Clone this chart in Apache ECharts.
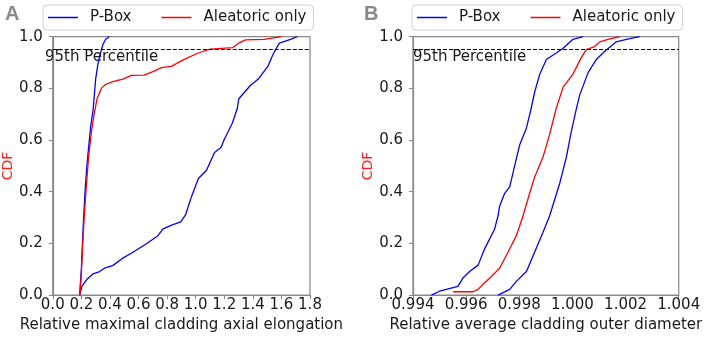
<!DOCTYPE html>
<html>
<head>
<meta charset="utf-8">
<script src="https://cdn.jsdelivr.net/npm/echarts@6/dist/echarts.min.js"></script>
<style>
    html, body {margin: 0; padding: 0; background: #fff;}
    #chartWrap {width: 706px; height: 338px;}
</style>
</head>
<body>
<div id="chartWrap"></div>
<script>
// panel A: relative maximal cladding axial elongation
const pboxLowA = [[0.188, 0], [0.20, 0.10], [0.215, 0.29], [0.228, 0.42], [0.238, 0.495], [0.249, 0.56],
    [0.265, 0.65], [0.283, 0.72], [0.30, 0.836], [0.315, 0.89], [0.328, 0.924], [0.351, 0.97], [0.37, 0.99], [0.396, 1.0]];
const pboxHighA = [[0.188, 0], [0.204, 0.034], [0.238, 0.06], [0.278, 0.081], [0.328, 0.091], [0.362, 0.104],
    [0.419, 0.114], [0.487, 0.142], [0.555, 0.164], [0.645, 0.195], [0.736, 0.23], [0.77, 0.255], [0.827, 0.27],
    [0.895, 0.283], [0.929, 0.31], [0.97, 0.38], [1.019, 0.451], [1.075, 0.482], [1.132, 0.552], [1.177, 0.571],
    [1.2, 0.602], [1.257, 0.666], [1.291, 0.722], [1.302, 0.76], [1.381, 0.81], [1.438, 0.836], [1.506, 0.886],
    [1.54, 0.93], [1.585, 0.975], [1.664, 0.99], [1.71, 1.0]];
const aleatoricA = [[0.19, 0], [0.20, 0.08], [0.21, 0.2], [0.22, 0.3], [0.235, 0.42], [0.25, 0.53], [0.27, 0.63],
    [0.29, 0.7], [0.31, 0.76], [0.34, 0.80], [0.37, 0.815], [0.42, 0.826], [0.49, 0.836], [0.55, 0.85], [0.64, 0.851],
    [0.71, 0.867], [0.76, 0.88], [0.83, 0.885], [0.92, 0.912], [1.01, 0.935], [1.10, 0.952], [1.26, 0.958],
    [1.30, 0.975], [1.35, 0.988], [1.48, 0.99], [1.60, 1.0]];

// panel B: relative average cladding outer diameter
const pboxLowB = [[0.99469, 0], [0.995, 0.015], [0.99569, 0.034], [0.99588, 0.066], [0.99613, 0.091], [0.99645, 0.116],
    [0.9967, 0.18], [0.99707, 0.255], [0.9972, 0.306], [0.99726, 0.344], [0.99745, 0.394], [0.99764, 0.419],
    [0.99783, 0.502], [0.99802, 0.583], [0.99827, 0.647], [0.99842, 0.71], [0.99858, 0.786], [0.99877, 0.855],
    [0.99902, 0.912], [0.99939, 0.937], [0.99965, 0.955], [1.00002, 0.99], [1.0004, 1.0]];
const pboxHighB = [[0.9972, 0], [0.99764, 0.022], [0.99789, 0.053], [0.99827, 0.091], [0.99858, 0.167], [0.99889, 0.242],
    [0.99914, 0.306], [0.99933, 0.369], [0.99952, 0.432], [0.99977, 0.533], [0.99996, 0.634], [1.00015, 0.722],
    [1.00027, 0.773], [1.00059, 0.861], [1.0009, 0.912], [1.00121, 0.943], [1.00165, 0.98], [1.00203, 0.99], [1.00253, 1.0]];
const aleatoricB = [[0.99551, 0.013], [0.99626, 0.013], [0.99645, 0.022], [0.99663, 0.041], [0.99695, 0.072],
    [0.99726, 0.104], [0.99758, 0.167], [0.99789, 0.23], [0.99814, 0.306], [0.99839, 0.394], [0.99858, 0.457],
    [0.99889, 0.533], [0.99914, 0.621], [0.99939, 0.722], [0.99965, 0.805], [1.00002, 0.855], [1.00033, 0.918],
    [1.00052, 0.95], [1.00084, 0.962], [1.00103, 0.98], [1.00134, 0.99], [1.00178, 1.0]];

const percentile = 0.95;
const xTitles = ['Relative maximal cladding axial elongation', 'Relative average cladding outer diameter'];
const panelLabels = ['A', 'B'];

const font = 'DejaVu Sans';
const frameColor = '#888';
const textColor = '#1a1a1a';

let myChart = echarts.init(document.getElementById('chartWrap'), null, {renderer: 'canvas'});

function xAxisOf(idx, min, max, step, digits) {
    return {
        type: 'value',
        gridIndex: idx,
        min: min,
        max: max,
        interval: step,
        name: xTitles[idx],
        nameLocation: 'middle',
        nameGap: 18,
        nameTextStyle: {fontFamily: font, fontSize: 15, color: textColor},
        axisLine: {show: true, lineStyle: {color: frameColor, width: 1.2}},
        axisTick: {show: true, length: 4, lineStyle: {color: frameColor}},
        axisLabel: {
            fontFamily: font, fontSize: 15, color: textColor, margin: 3,
            showMinLabel: true, showMaxLabel: true,
            formatter: function (v) {
                return v.toFixed(digits);
            }
        },
        splitLine: {show: false}
    };
}

function yAxisOf(idx, gap) {
    return {
        type: 'value',
        gridIndex: idx,
        min: 0,
        max: 1,
        interval: 0.2,
        name: 'CDF',
        nameLocation: 'middle',
        nameGap: gap,
        nameTextStyle: {fontFamily: font, fontSize: 14, color: '#ff2020'},
        axisLine: {show: true, lineStyle: {color: frameColor, width: 1.2}},
        axisTick: {show: true, length: 4, lineStyle: {color: frameColor}},
        axisLabel: {
            fontFamily: font, fontSize: 15, color: textColor, margin: 10,
            formatter: function (v) {
                return v.toFixed(1);
            }
        },
        splitLine: {show: false}
    };
}

function lineOf(name, idx, data, color) {
    return {
        name: name,
        type: 'line',
        xAxisIndex: idx,
        yAxisIndex: idx,
        data: data,
        symbol: 'none',
        animation: false,
        lineStyle: {color: color, width: 1.3},
        itemStyle: {color: color}
    };
}

function dashedOf(idx) {
    // 95th percentile reference line
    return {
        type: 'line',
        xAxisIndex: idx,
        yAxisIndex: idx,
        data: [],
        silent: true,
        markLine: {
            silent: true,
            symbol: 'none',
            animation: false,
            label: {show: false},
            lineStyle: {color: '#000', type: [4, 2], width: 1},
            data: [{yAxis: percentile}]
        }
    };
}

function legendOf(left) {
    return {
        left: left,
        top: 5,
        data: ['P-Box', 'Aleatoric only'],
        icon: 'rect',
        itemWidth: 30,
        itemHeight: 1.5,
        itemGap: 30,
        padding: [5, 7, 5, 5],
        borderColor: '#d0d0d0',
        borderWidth: 1,
        borderRadius: 4,
        textStyle: {fontFamily: font, fontSize: 15, color: textColor, padding: [0, 0, 0, 7]}
    };
}

myChart.setOption({
    backgroundColor: '#fff',
    animation: false,
    grid: [
        {left: 45, right: 396, top: 36.7, bottom: 37.3, show: true, borderColor: frameColor, borderWidth: 1.2, backgroundColor: 'transparent'},
        {left: 413, right: 27.3, top: 36.7, bottom: 37.3, show: true, borderColor: frameColor, borderWidth: 1.2, backgroundColor: 'transparent'}
    ],
    legend: [legendOf(43), legendOf(412)],
    xAxis: [xAxisOf(0, 0, 1.8, 0.2, 1), xAxisOf(1, 0.994, 1.004, 0.002, 3)],
    yAxis: [yAxisOf(0, 34), yAxisOf(1, 33)],
    series: [
        lineOf('P-Box', 0, pboxLowA, '#0000ff'),
        lineOf('P-Box', 0, pboxHighA, '#0000ff'),
        lineOf('Aleatoric only', 0, aleatoricA, '#ff0000'),
        dashedOf(0),
        lineOf('P-Box', 1, pboxLowB, '#0000ff'),
        lineOf('P-Box', 1, pboxHighB, '#0000ff'),
        lineOf('Aleatoric only', 1, aleatoricB, '#ff0000'),
        dashedOf(1)
    ],
    graphic: [
        {type: 'text', left: 5, top: 4, style: {text: panelLabels[0], font: 'bold 20px "Liberation Sans"', fill: '#888'}},
        {type: 'text', left: 364, top: 4, style: {text: panelLabels[1], font: 'bold 20px "Liberation Sans"', fill: '#888'}},
        {type: 'text', left: 45, top: 50, style: {text: '95th Percentile', font: '15px "DejaVu Sans"', fill: textColor}},
        {type: 'text', left: 413, top: 50, style: {text: '95th Percentile', font: '15px "DejaVu Sans"', fill: textColor}}
    ]
});
</script>
</body>
</html>
